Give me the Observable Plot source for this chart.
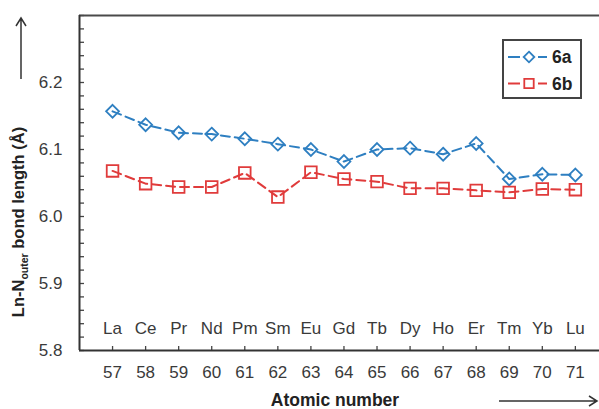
<!DOCTYPE html>
<html>
<head>
<meta charset="utf-8">
<script src="https://cdn.jsdelivr.net/npm/d3@7"></script>
<script src="https://cdn.jsdelivr.net/npm/@observablehq/plot@0.6"></script>
<style>
  html, body { margin: 0; padding: 0; background: #fff; }
  #chart { width: 599px; height: 409px; }
</style>
</head>
<body>
<div id="chart"></div>
<script>
const elements = ["La","Ce","Pr","Nd","Pm","Sm","Eu","Gd","Tb","Dy","Ho","Er","Tm","Yb","Lu"];
const atomicNumbers = [57,58,59,60,61,62,63,64,65,66,67,68,69,70,71];
const values6a = [6.157, 6.137, 6.125, 6.123, 6.116, 6.108, 6.100, 6.082, 6.100, 6.102, 6.093, 6.109, 6.056, 6.063, 6.062];
const values6b = [6.068, 6.049, 6.044, 6.044, 6.065, 6.029, 6.066, 6.056, 6.052, 6.042, 6.042, 6.039, 6.036, 6.041, 6.040];
const yTickLabels = [5.8, 5.9, 6.0, 6.1, 6.2];
const seriesNames = ["6a", "6b"];

const colors = {"6a": "#2e7fc1", "6b": "#e03b3b"};
const symbols = {"6a": "diamond2", "6b": "square2"};
const radii = {"6a": 5.8, "6b": 7.4};
const dash = "9,5";

const rows = [];
atomicNumbers.forEach((z, i) => {
  rows.push({series: "6a", z, v: values6a[i]});
  rows.push({series: "6b", z, v: values6b[i]});
});
const elementRows = atomicNumbers.map((z, i) => ({z, el: elements[i]}));
const minorY = d3.ticks(5.8, 6.3, 25);

const W = 599, H = 409, mL = 79, mR = 0, mT = 15, mB = 59;
const font = "'Liberation Sans', Arial, Helvetica, sans-serif";

const chart = Plot.plot({
  width: W, height: H,
  marginLeft: mL, marginRight: mR, marginTop: mT, marginBottom: mB,
  style: {fontFamily: font, fontSize: "17px", color: "#333", background: "#fff", overflow: "visible"},
  x: {domain: [56, 71.73], label: null},
  y: {domain: [5.8, 6.3], label: null},
  marks: [
    Plot.axisY(yTickLabels, {tickSize: 0, tickPadding: 17, tickFormat: d3.format(".1f"), fontSize: 17, fill: "#3a3a3a", label: null}),
    Plot.axisX(atomicNumbers, {tickSize: 0, tickPadding: 15, tickFormat: d => String(d), fontSize: 17, fill: "#3a3a3a", label: null}),
    Plot.tickY(minorY, {y: d => d, insetRight: W - mL - mR - 5, stroke: "#444", strokeWidth: 1.3}),
    Plot.tickX(atomicNumbers, {x: d => d, insetTop: H - mT - mB - 4, stroke: "#444", strokeWidth: 1.3}),
    Plot.ruleY([6.3], {stroke: "#4a4a4a", strokeWidth: 2}),
    Plot.ruleY([5.8], {stroke: "#333", strokeWidth: 2}),
    Plot.ruleX([56], {stroke: "#333", strokeWidth: 2}),
    Plot.text(elementRows, {x: "z", y: 5.833, text: "el", fontSize: 17, fill: "#3a3a3a"}),
    ...seriesNames.map(s => Plot.line(rows.filter(r => r.series === s), {
      x: "z", y: "v", stroke: colors[s], strokeWidth: 2, strokeDasharray: dash
    })),
    ...seriesNames.map(s => Plot.dot(rows.filter(r => r.series === s), {
      x: "z", y: "v", symbol: symbols[s], r: radii[s], stroke: colors[s], strokeWidth: 1.8, fill: "none"
    }))
  ]
});
document.getElementById("chart").appendChild(chart);

const svg = d3.select(chart);

// Y axis title with subscript
const yt = svg.append("text")
  .attr("transform", "translate(24,222) rotate(-90)")
  .attr("text-anchor", "middle")
  .attr("font-family", font)
  .attr("font-weight", "bold")
  .attr("font-size", 16.5)
  .attr("fill", "#222");
yt.append("tspan").text("Ln-N");
yt.append("tspan").attr("font-size", 10.5).attr("dy", 4).text("outer");
yt.append("tspan").attr("dy", -4).text(" bond length (Å)");

// X axis title
svg.append("text")
  .attr("x", 335).attr("y", 406)
  .attr("text-anchor", "middle")
  .attr("font-family", font)
  .attr("font-weight", "bold")
  .attr("font-size", 17.5)
  .attr("fill", "#222")
  .text("Atomic number");

// Arrows
const arrowStyle = sel => sel.attr("stroke", "#333").attr("stroke-width", 1.5).attr("fill", "none");
svg.append("path").attr("d", "M21,79 L21,18 M16,26 L21,18 L26,26").call(arrowStyle);
svg.append("path").attr("d", "M499,401 L597,401 M589,396 L597,401 L589,406").call(arrowStyle);

// Legend
const lg = svg.append("g");
lg.append("rect").attr("x", 503).attr("y", 40).attr("width", 78).attr("height", 58)
  .attr("fill", "#fff").attr("stroke", "#444").attr("stroke-width", 2);
seriesNames.forEach((s, i) => {
  const cy = 57 + i * 26.5;
  lg.append("line").attr("x1", 508).attr("x2", 520).attr("y1", cy).attr("y2", cy)
    .attr("stroke", colors[s]).attr("stroke-width", 2);
  lg.append("line").attr("x1", 538).attr("x2", 547).attr("y1", cy).attr("y2", cy)
    .attr("stroke", colors[s]).attr("stroke-width", 2);
  const sym = d3.symbol(s === "6a" ? d3.symbolDiamond2 : d3.symbolSquare2, Math.PI * (s === "6a" ? 4.8 : 6.0) ** 2);
  lg.append("path").attr("d", sym()).attr("transform", `translate(529,${cy})`)
    .attr("fill", "none").attr("stroke", colors[s]).attr("stroke-width", 1.8);
  lg.append("text").attr("x", 552).attr("y", cy + 6)
    .attr("text-anchor", "start")
    .attr("font-family", font).attr("font-weight", "bold").attr("font-size", 17.5).attr("fill", "#222")
    .text(s);
});
</script>
</body>
</html>
